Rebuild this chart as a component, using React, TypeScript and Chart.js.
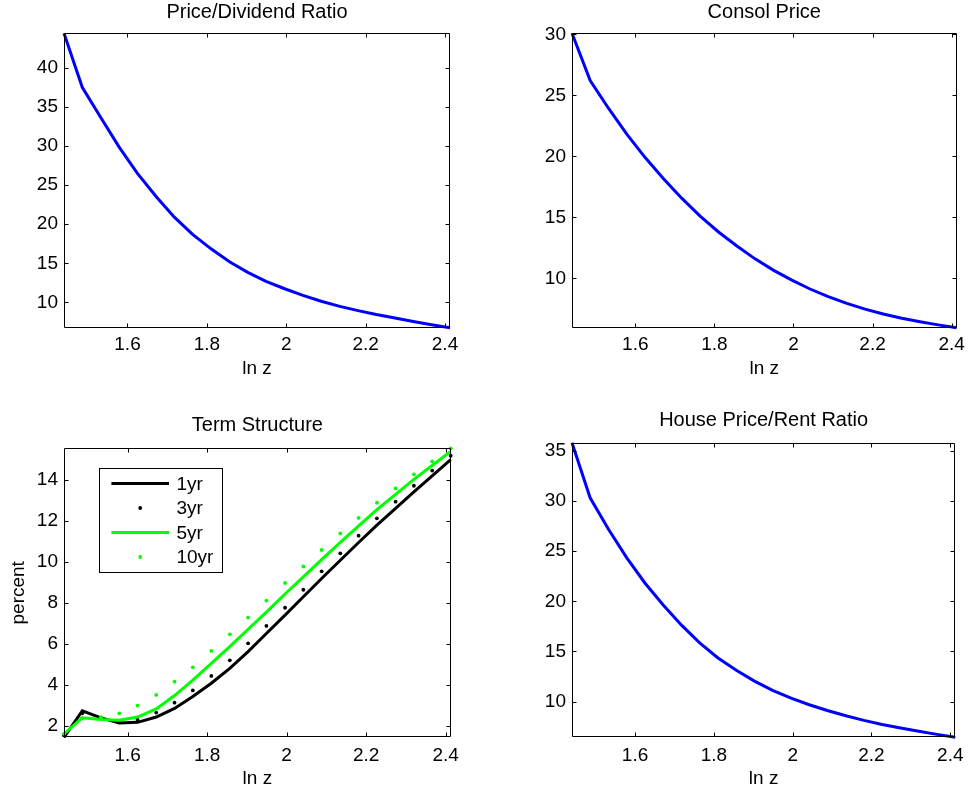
import React, { useEffect, useRef } from 'react';
import { Chart, registerables } from 'chart.js';

Chart.register(...registerables);

// ---------- data ----------
const lnz = [1.440, 1.486, 1.533, 1.579, 1.625, 1.672, 1.718, 1.764, 1.8105, 1.857, 1.903, 1.949, 1.996, 2.042, 2.088, 2.135, 2.181, 2.227, 2.274, 2.320, 2.366, 2.4126];

const priceDividend = [44.4, 37.5, 33.6, 29.85, 26.5, 23.55, 20.9, 18.7, 16.85, 15.2, 13.85, 12.7, 11.75, 10.9, 10.15, 9.5, 8.95, 8.45, 8.0, 7.57, 7.16, 6.77];
const consolPrice = [30.08, 26.2, 23.9, 21.8, 19.9, 18.15, 16.55, 15.1, 13.8, 12.65, 11.6, 10.68, 9.86, 9.13, 8.5, 7.95, 7.48, 7.08, 6.74, 6.45, 6.19, 5.96];
const houseRent = [35.83, 30.33, 27.17, 24.34, 21.83, 19.6, 17.62, 15.86, 14.35, 13.12, 12.04, 11.11, 10.33, 9.68, 9.1, 8.58, 8.12, 7.71, 7.36, 7.03, 6.72, 6.43];

const yield1yr = [1.43, 2.72, 2.38, 2.13, 2.16, 2.42, 2.84, 3.42, 4.07, 4.8, 5.62, 6.5, 7.4, 8.3, 9.19, 10.08, 10.95, 11.8, 12.62, 13.42, 14.2, 15.0];
const yield3yr = [1.52, 2.6, 2.35, 2.2, 2.29, 2.64, 3.12, 3.72, 4.43, 5.19, 6.02, 6.87, 7.76, 8.64, 9.54, 10.42, 11.28, 12.13, 12.94, 13.72, 14.46, 15.19];
const yield5yr = [1.6, 2.38, 2.3, 2.26, 2.42, 2.82, 3.47, 4.22, 5.04, 5.86, 6.71, 7.55, 8.43, 9.27, 10.11, 10.95, 11.76, 12.55, 13.3, 14.03, 14.71, 15.4];
const yield10yr = [1.6, 2.36, 2.41, 2.6, 2.98, 3.5, 4.15, 4.85, 5.65, 6.46, 7.28, 8.11, 8.97, 9.78, 10.58, 11.39, 12.15, 12.89, 13.59, 14.28, 14.91, 15.55];

const xTicks = [1.6, 1.8, 2, 2.2, 2.4];
const pdTicks = [10, 15, 20, 25, 30, 35, 40];
const consolTicks = [10, 15, 20, 25, 30];
const termTicks = [2, 4, 6, 8, 10, 12, 14];
const houseTicks = [10, 15, 20, 25, 30, 35];

const FONT = "'Liberation Sans', Arial, Helvetica, sans-serif";
const FS = 19;
const TFS = 20;

// ---------- plugins ----------
const framePlugin = {
  id: 'matlabFrame',
  afterDraw(chart: any) {
    const { ctx, chartArea } = chart;
    const { left, right, top, bottom } = chartArea;
    const xs = chart.scales.x;
    const ys = chart.scales.y;
    const tl = 4;
    ctx.save();
    ctx.strokeStyle = '#000';
    ctx.lineWidth = 1;
    const L = Math.round(left) + 0.5;
    const R = Math.round(right) - 0.5;
    const T = Math.round(top) + 0.5;
    const B = Math.round(bottom) - 0.5;
    ctx.beginPath();
    ctx.rect(L, T, R - L, B - T);
    xs.ticks.forEach((t: any) => {
      const px = Math.round(xs.getPixelForValue(t.value)) + 0.5;
      ctx.moveTo(px, B); ctx.lineTo(px, B - tl);
      ctx.moveTo(px, T); ctx.lineTo(px, T + tl);
    });
    ys.ticks.forEach((t: any) => {
      const py = Math.round(ys.getPixelForValue(t.value)) + 0.5;
      ctx.moveTo(L, py); ctx.lineTo(L + tl, py);
      ctx.moveTo(R, py); ctx.lineTo(R - tl, py);
    });
    ctx.stroke();
    ctx.restore();
  },
};

const insetLegendPlugin = {
  id: 'insetLegend',
  afterDraw(chart: any, _args: any, opts: any) {
    if (!opts || !opts.display) return;
    const { ctx, chartArea } = chart;
    const bx = Math.round(chartArea.left + opts.x) + 0.5;
    const by = Math.round(chartArea.top + opts.y) + 0.5;
    ctx.save();
    ctx.fillStyle = '#fff';
    ctx.fillRect(bx, by, opts.w, opts.h);
    ctx.strokeStyle = '#000';
    ctx.lineWidth = 1;
    ctx.strokeRect(bx, by, opts.w, opts.h);
    ctx.font = `${FS}px ${FONT}`;
    ctx.textBaseline = 'middle';
    ctx.textAlign = 'left';
    chart.data.datasets.forEach((ds: any, i: number) => {
      const cy = by + opts.firstRow + i * opts.rowH;
      const sx0 = chartArea.left + opts.sampleX0;
      const sx1 = chartArea.left + opts.sampleX1;
      if (ds.showLine) {
        ctx.strokeStyle = ds.borderColor;
        ctx.lineWidth = ds.borderWidth;
        ctx.beginPath();
        ctx.moveTo(sx0, cy);
        ctx.lineTo(sx1, cy);
        ctx.stroke();
      } else {
        ctx.fillStyle = ds.backgroundColor;
        ctx.beginPath();
        ctx.arc((sx0 + sx1) / 2, cy, ds.pointRadius, 0, Math.PI * 2);
        ctx.fill();
      }
      ctx.fillStyle = '#000';
      ctx.fillText(ds.label, chartArea.left + opts.textX, cy + 1);
    });
    ctx.restore();
  },
};

// ---------- helpers ----------
const pts = (ys: number[]) => lnz.map((x, i) => ({ x, y: ys[i] }));

const lineDs = (label: string, ys: number[], color: string, order: number) => ({
  label, data: pts(ys), showLine: true, borderColor: color, backgroundColor: color,
  borderWidth: 3, pointRadius: 0, pointHoverRadius: 0, clip: 5, order,
});
const dotDs = (label: string, ys: number[], color: string, order: number) => ({
  label, data: pts(ys), showLine: false, borderColor: color, backgroundColor: color,
  borderWidth: 0, pointRadius: 1.9, pointHoverRadius: 0, clip: 5, order,
});

interface Spec {
  left: number; top: number; width: number; height: number;
  title: string; titleTop: number; titleBottom: number;
  yWidth: number; padRight: number;
  xHeight: number; xTickPad: number; xTitleBottom: number;
  yTicks: number[]; yLabel?: string;
  datasets: any[]; legend?: any;
}

function makeConfig(s: Spec): any {
  const allY: number[] = [];
  s.datasets.forEach((d) => d.data.forEach((p: any) => allY.push(p.y)));
  return {
    type: 'scatter',
    data: { datasets: s.datasets },
    options: {
      responsive: false,
      animation: false,
      events: [],
      layout: { padding: { left: 0, right: s.padRight, top: 0, bottom: 0 } },
      plugins: {
        legend: { display: false },
        tooltip: { enabled: false },
        title: {
          display: true, text: s.title, fullSize: false, color: '#000',
          font: { size: TFS, weight: 'normal', family: FONT },
          padding: { top: s.titleTop, bottom: s.titleBottom },
        },
        insetLegend: s.legend || { display: false },
      },
      scales: {
        x: {
          type: 'linear', position: 'bottom',
          min: lnz[0], max: lnz[lnz.length - 1],
          afterBuildTicks: (sc: any) => { sc.ticks = xTicks.map((v) => ({ value: v })); },
          afterFit: (sc: any) => { sc.height = s.xHeight; },
          grid: { display: false, drawTicks: false },
          border: { display: false },
          ticks: {
            autoSkip: false, maxRotation: 0, minRotation: 0, padding: s.xTickPad, color: '#000',
            font: { size: FS, family: FONT }, callback: (v: any) => String(v),
          },
          title: {
            display: true, text: 'ln z', color: '#000', font: { size: FS, family: FONT },
            padding: { top: 0, bottom: s.xTitleBottom },
          },
        },
        y: {
          type: 'linear', position: 'left',
          min: Math.min(...allY), max: Math.max(...allY),
          afterBuildTicks: (sc: any) => { sc.ticks = s.yTicks.map((v) => ({ value: v })); },
          afterFit: (sc: any) => { sc.width = s.yWidth; },
          grid: { display: false, drawTicks: false },
          border: { display: false },
          ticks: {
            autoSkip: false, padding: 6, color: '#000',
            font: { size: FS, family: FONT }, callback: (v: any) => String(v),
          },
          title: s.yLabel
            ? { display: true, text: s.yLabel, color: '#000', font: { size: FS, family: FONT }, padding: { top: 7, bottom: 0 } }
            : { display: false },
        },
      },
    },
    plugins: [framePlugin, insetLegendPlugin],
  };
}

const BLUE = '#0000ff';
const GREEN = '#00ff00';
const BLACK = '#000000';

const specs: Spec[] = [
  {
    left: 0, top: 0, width: 485, height: 390,
    title: 'Price/Dividend Ratio', titleTop: 0, titleBottom: 9.3,
    yWidth: 64, padRight: 35, xHeight: 62.3, xTickPad: 6, xTitleBottom: 10.3,
    yTicks: pdTicks,
    datasets: [lineDs('P/D', priceDividend, BLUE, 0)],
  },
  {
    left: 485, top: 0, width: 486, height: 390,
    title: 'Consol Price', titleTop: 0, titleBottom: 9.3,
    yWidth: 87, padRight: 13.7, xHeight: 62.3, xTickPad: 6, xTitleBottom: 10.3,
    yTicks: consolTicks,
    datasets: [lineDs('Consol', consolPrice, BLUE, 0)],
  },
  {
    left: 0, top: 390, width: 485, height: 403,
    title: 'Term Structure', titleTop: 23, titleBottom: 11.3,
    yWidth: 64, padRight: 34.3, xHeight: 55.7, xTickPad: 7.3, xTitleBottom: 2.6,
    yTicks: termTicks, yLabel: 'percent',
    datasets: [
      lineDs('1yr', yield1yr, BLACK, 3),
      dotDs('3yr', yield3yr, BLACK, 2),
      lineDs('5yr', yield5yr, GREEN, 1),
      dotDs('10yr', yield10yr, GREEN, 0),
    ],
    legend: { display: true, x: 35, y: 20, w: 123, h: 104, firstRow: 15, rowH: 24.5, sampleX0: 47.4, sampleX1: 105, textX: 112.4 },
  },
  {
    left: 485, top: 390, width: 486, height: 403,
    title: 'House Price/Rent Ratio', titleTop: 18, titleBottom: 10.7,
    yWidth: 87, padRight: 14, xHeight: 55.7, xTickPad: 7.3, xTitleBottom: 2.6,
    yTicks: houseTicks,
    datasets: [lineDs('P/R', houseRent, BLUE, 0)],
  },
];

export default function App() {
  const refs = useRef<(HTMLCanvasElement | null)[]>([]);
  useEffect(() => {
    const charts = specs.map((s, i) => new Chart(refs.current[i] as HTMLCanvasElement, makeConfig(s)));
    return () => charts.forEach((c) => c.destroy());
  }, []);
  return (
    <div style={{ position: 'absolute', left: 0, top: 0, width: 971, height: 793, background: '#fff' }}>
      {specs.map((s, i) => (
        <canvas
          key={i}
          ref={(el) => { refs.current[i] = el; }}
          width={s.width}
          height={s.height}
          style={{ position: 'absolute', left: s.left, top: s.top, width: s.width, height: s.height }}
        />
      ))}
    </div>
  );
}
